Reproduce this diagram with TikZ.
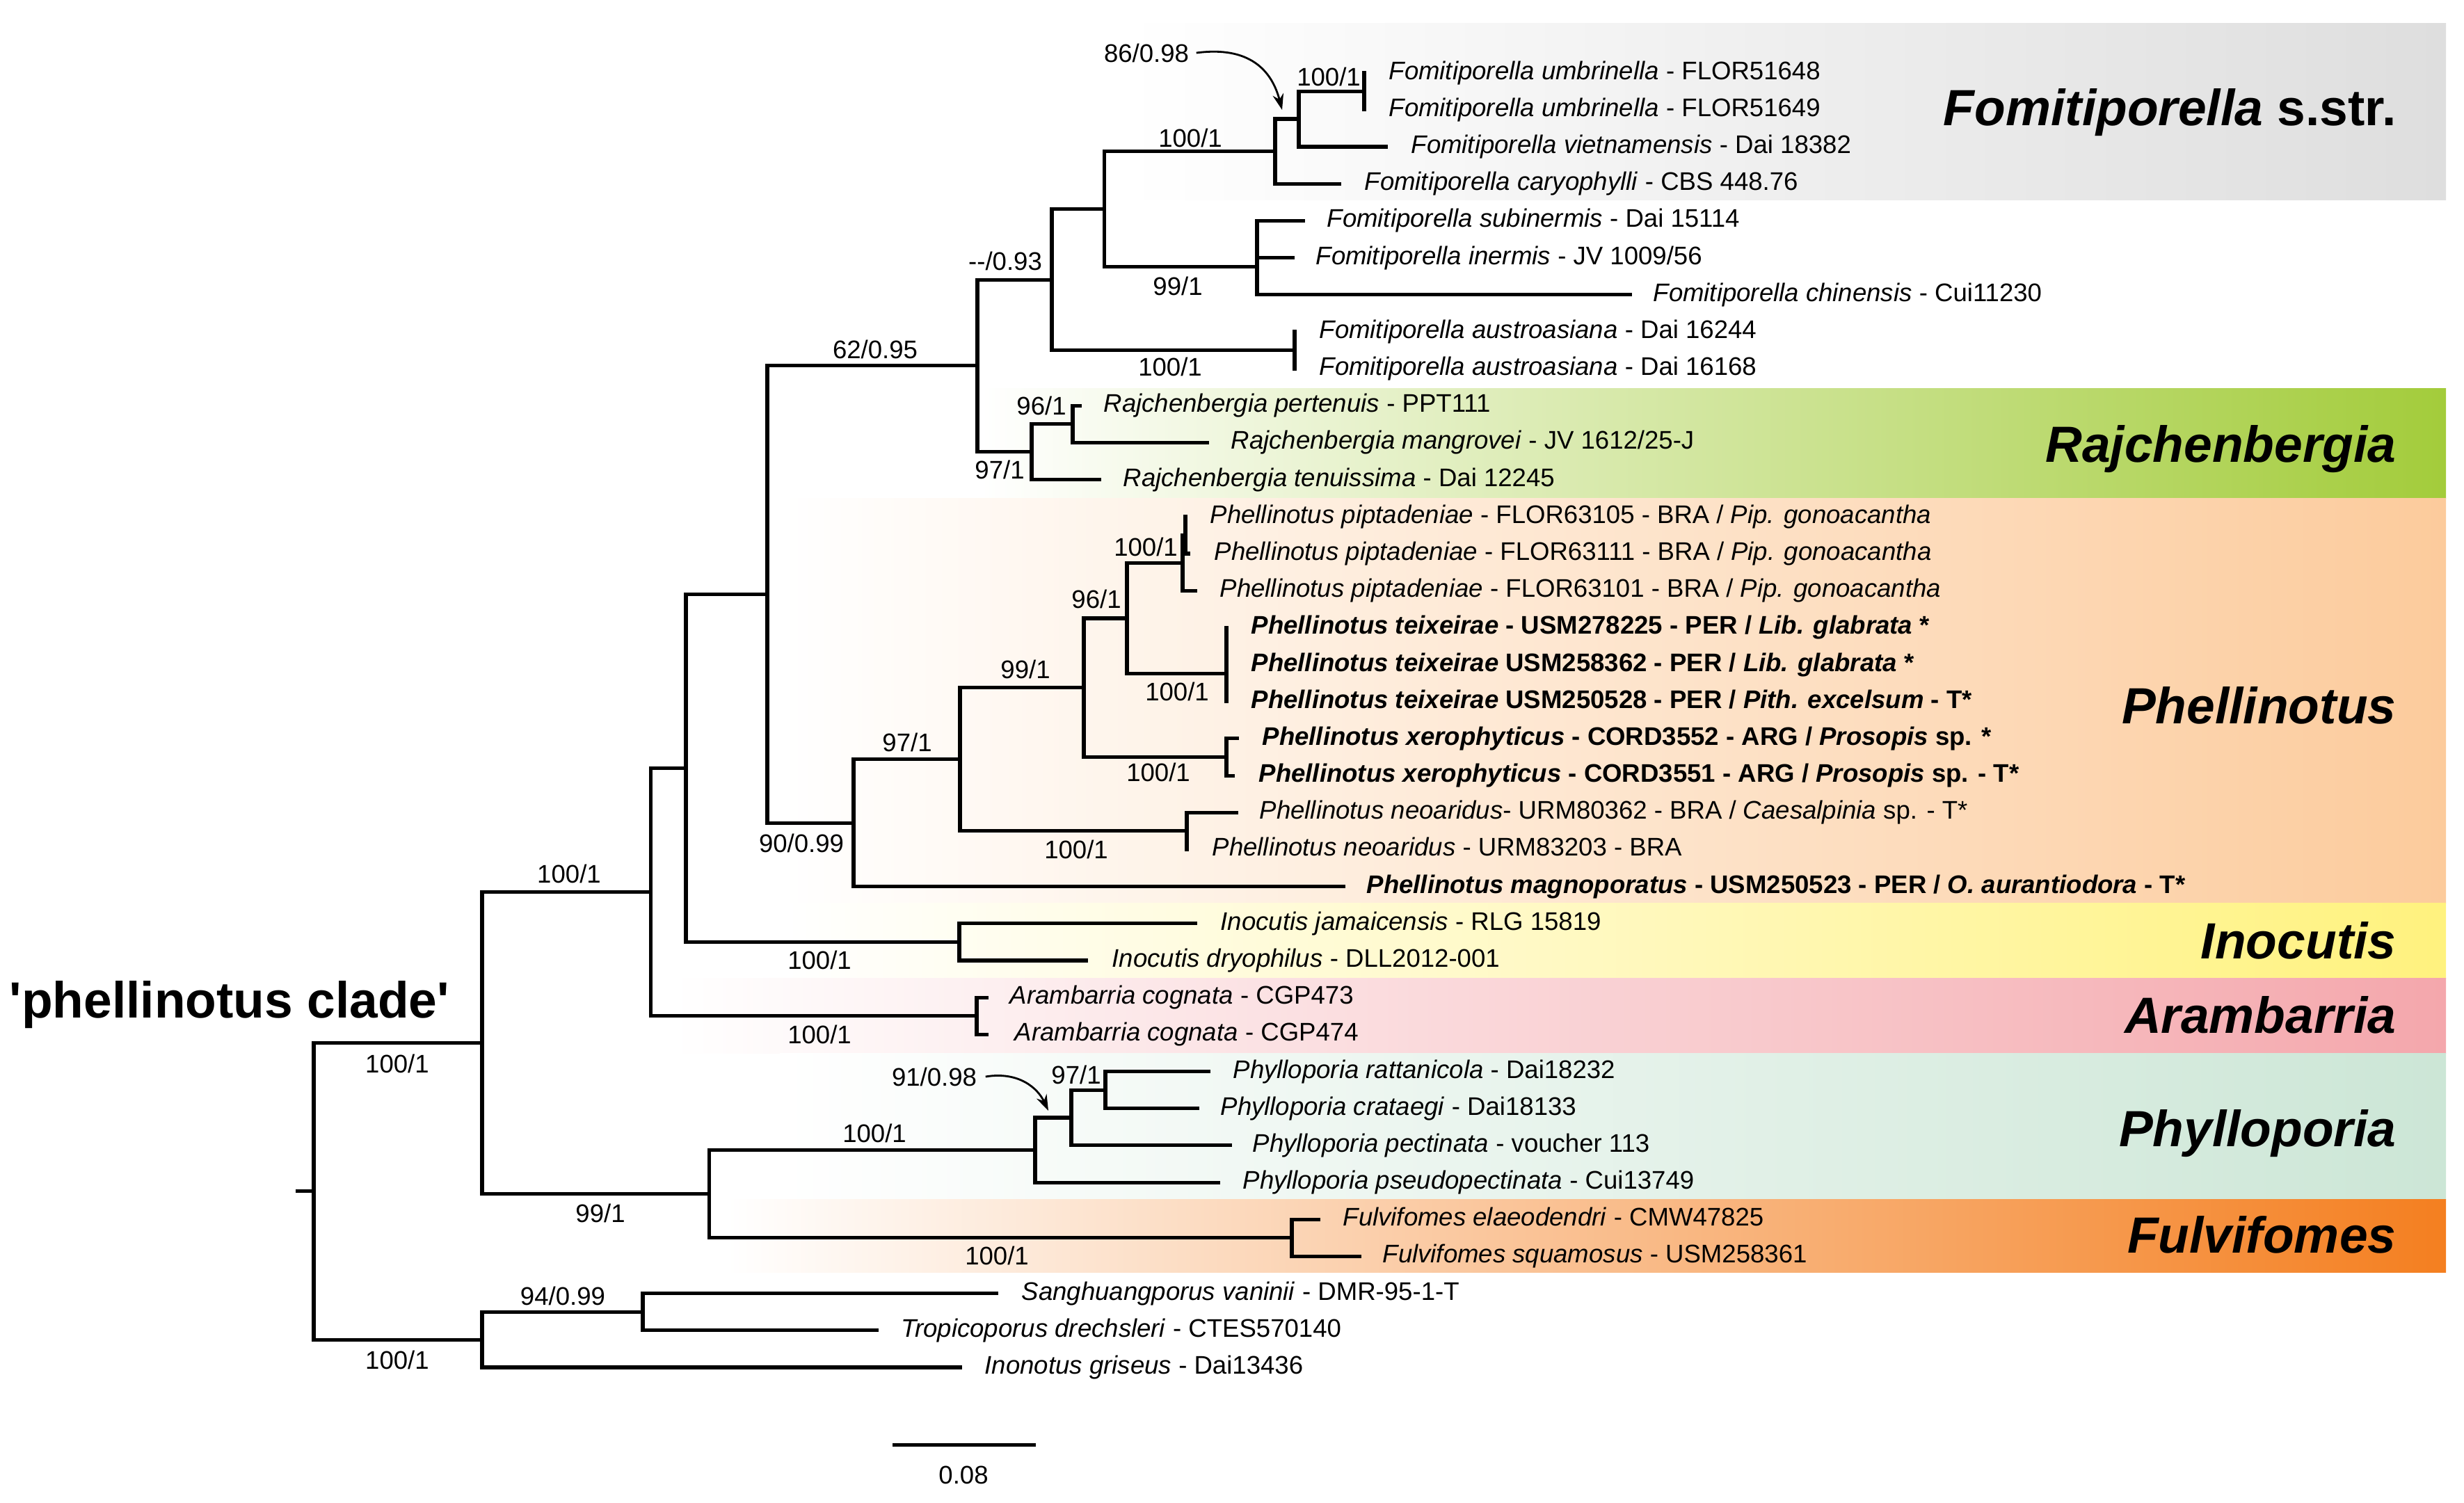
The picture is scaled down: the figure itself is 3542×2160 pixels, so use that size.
\documentclass[tikz,border=0pt]{standalone}
\usepackage{fontspec}
\setmainfont{Liberation Sans}
\usetikzlibrary{arrows.meta}
\definecolor{bgray}{HTML}{DEDEDE}
\definecolor{bgreen}{HTML}{A3CC3B}
\definecolor{bpeach}{HTML}{FCCB9C}
\definecolor{byellow}{HTML}{FFF27E}
\definecolor{bpink}{HTML}{F4A7AC}
\definecolor{bmint}{HTML}{CCE6D6}
\definecolor{borange}{HTML}{F47F20}
\begin{document}
\begin{tikzpicture}[x=0.01cm,y=-0.01cm,
  branch/.style={line width=1.45pt,line cap=rect},
  taxon/.style={anchor=west,inner sep=0pt,font=\fontsize{10.4}{12}\selectfont,text height=5.4pt,text depth=0pt},
  supp/.style={inner sep=0pt,font=\fontsize{10.4}{12}\selectfont,text height=7.5pt,text depth=0pt},
  cladelab/.style={anchor=base east,inner sep=0pt,font=\fontsize{20.8}{24}\selectfont\bfseries\itshape},
  arr/.style={line width=0.8pt,-{Stealth[length=6.5pt,width=4.5pt]}}]
\fill[white] (0,0) rectangle (3542,2160);
\useasboundingbox (0,0) rectangle (3542,2160);
% ---- clade bands
\shade[left color=white,right color=bgray] (1616,33) rectangle (3516,287);
\shade[left color=white,right color=bgreen] (1410,558) rectangle (3516,716);
\shade[left color=white,right color=bpeach] (1124,716) rectangle (3516,1298);
\shade[left color=white,right color=byellow] (1130,1298) rectangle (3516,1406);
\shade[left color=white,right color=bpink] (966,1406) rectangle (3516,1514);
\shade[left color=white,right color=bmint] (1121,1514) rectangle (3516,1724);
\shade[left color=white,right color=borange] (1045,1724) rectangle (3516,1829);
% ---- internal nodes
\coordinate (stub) at (428,1712.9);
\coordinate (root) at (451,1712.9);
\coordinate (A) at (693,1499.6);
\coordinate (O) at (693,1926.1);
\coordinate (O2) at (924,1886.2);
\coordinate (B) at (935.6,1282.6);
\coordinate (PF) at (1019.5,1716.7);
\coordinate (C) at (986,1104.5);
\coordinate (AR) at (1404,1460.7);
\coordinate (D) at (1103,854.6);
\coordinate (IN) at (1379,1354.4);
\coordinate (E) at (1405,525.9);
\coordinate (P90) at (1227,1183.2);
\coordinate (F) at (1512,402.1);
\coordinate (R97) at (1483,649.7);
\coordinate (G) at (1587.5,300.7);
\coordinate (AU) at (1861,503.5);
\coordinate (FS) at (1833,217.5);
\coordinate (N99) at (1807,383.8);
\coordinate (N86) at (1867,171);
\coordinate (U) at (1961,131.2);
\coordinate (R96) at (1542,609.8);
\coordinate (P97) at (1380,1091.8);
\coordinate (P99) at (1558,988.8);
\coordinate (NE) at (1706,1194.8);
\coordinate (P96) at (1620,889);
\coordinate (XE) at (1763,1088.5);
\coordinate (PP) at (1700,809.3);
\coordinate (PI) at (1704,769.4);
\coordinate (TX) at (1763,968.8);
\coordinate (PH) at (1488,1653.5);
\coordinate (FU) at (1857,1779.8);
\coordinate (P91) at (1540,1607);
\coordinate (P97b) at (1589,1567.1);
% ---- leaf tips
\coordinate (l1) at (1961,104.6);
\coordinate (l2) at (1961,157.8);
\coordinate (l3) at (1992,211.0);
\coordinate (l4) at (1925,264.1);
\coordinate (l5) at (1873,317.3);
\coordinate (l6) at (1858,370.5);
\coordinate (l7) at (2343,423.7);
\coordinate (l8) at (1861,476.9);
\coordinate (l9) at (1861,530.0);
\coordinate (l10) at (1552,583.2);
\coordinate (l11) at (1735,636.4);
\coordinate (l12) at (1580,689.6);
\coordinate (l13) at (1704,742.8);
\coordinate (l14) at (1708,796.0);
\coordinate (l15) at (1718,849.1);
\coordinate (l16) at (1763,902.3);
\coordinate (l17) at (1763,955.5);
\coordinate (l18) at (1763,1008.7);
\coordinate (l19) at (1778,1061.9);
\coordinate (l20) at (1772,1115.1);
\coordinate (l21) at (1777,1168.2);
\coordinate (l22) at (1706,1221.4);
\coordinate (l23) at (1931,1274.6);
\coordinate (l24) at (1718,1327.8);
\coordinate (l25) at (1561,1381.0);
\coordinate (l26) at (1418,1434.1);
\coordinate (l27) at (1418,1487.3);
\coordinate (l28) at (1737.5,1540.5);
\coordinate (l29) at (1721,1593.7);
\coordinate (l30) at (1768,1646.9);
\coordinate (l31) at (1751.6,1700.1);
\coordinate (l32) at (1895,1753.2);
\coordinate (l33) at (1954,1806.4);
\coordinate (l34) at (1432,1859.6);
\coordinate (l35) at (1260,1912.8);
\coordinate (l36) at (1380,1966.0);
% ---- tree: verticals
\foreach \p/\a/\b in {root/A/O, A/B/PF, O/O2/l36, O2/l34/l35, B/C/AR, AR/l26/l27,
  C/D/IN, IN/l24/l25, D/E/P90, E/F/R97, F/G/AU, G/FS/N99, FS/N86/l4, N86/U/l3,
  U/l1/l2, N99/l5/l7, AU/l8/l9, R97/R96/l12, R96/l10/l11, P90/P97/l23, P97/P99/NE,
  P99/P96/XE, P96/PP/TX, PP/PI/l15, PI/l13/l14, TX/l16/l18, XE/l19/l20, NE/l21/l22,
  PF/PH/FU, PH/P91/l31, P91/P97b/l30, P97b/l28/l29, FU/l32/l33}
  \draw[branch] (\p |- \a) -- (\p |- \b);
% ---- tree: horizontals
\draw[branch] (stub) -- (root);
\foreach \p/\c in {root/A, root/O, A/B, A/PF, O/O2, O/l36, O2/l34, O2/l35, B/C, B/AR,
  AR/l26, AR/l27, C/D, C/IN, IN/l24, IN/l25, D/E, D/P90, E/F, E/R97, F/G, F/AU,
  G/FS, G/N99, FS/N86, FS/l4, N86/U, N86/l3, N99/l5, N99/l6, N99/l7, R97/R96, R97/l12,
  R96/l10, R96/l11, P90/P97, P90/l23, P97/P99, P97/NE, P99/P96, P99/XE, P96/PP, P96/TX,
  PP/PI, PP/l15, PI/l14, XE/l19, XE/l20, NE/l21, PF/PH, PF/FU, PH/P91, PH/l31,
  P91/P97b, P91/l30, P97b/l28, P97b/l29, FU/l32, FU/l33}
  \draw[branch] (\p |- \c) -- (\c);
% ---- taxon labels
\node[taxon] (t1) at (1996,104.6) {\textit{Fomitiporella umbrinella} - FLOR51648};
\node[taxon] (t2) at (1996,157.8) {\textit{Fomitiporella umbrinella} - FLOR51649};
\node[taxon] (t3) at (2028,211.0) {\textit{Fomitiporella vietnamensis} - Dai 18382};
\node[taxon] (t4) at (1961,264.1) {\textit{Fomitiporella caryophylli} - CBS 448.76};
\node[taxon] (t5) at (1907,317.3) {\textit{Fomitiporella subinermis} - Dai 15114};
\node[taxon] (t6) at (1891,370.5) {\textit{Fomitiporella inermis} - JV 1009/56};
\node[taxon] (t7) at (2376,423.7) {\textit{Fomitiporella chinensis} - Cui11230};
\node[taxon] (t8) at (1896,476.9) {\textit{Fomitiporella austroasiana} - Dai 16244};
\node[taxon] (t9) at (1896,530.0) {\textit{Fomitiporella austroasiana} - Dai 16168};
\node[taxon] (t10) at (1586,583.2) {\textit{Rajchenbergia pertenuis} - PPT111};
\node[taxon] (t11) at (1769,636.4) {\textit{Rajchenbergia mangrovei} - JV 1612/25-J};
\node[taxon] (t12) at (1614,689.6) {\textit{Rajchenbergia tenuissima} - Dai 12245};
\node[taxon] (t13) at (1739,742.8) {\textit{Phellinotus piptadeniae} - FLOR63105 - BRA / \textit{Pip. gonoacantha}};
\node[taxon] (t14) at (1745,796.0) {\textit{Phellinotus piptadeniae} - FLOR63111 - BRA / \textit{Pip. gonoacantha}};
\node[taxon] (t15) at (1753,849.1) {\textit{Phellinotus piptadeniae} - FLOR63101 - BRA / \textit{Pip. gonoacantha}};
\node[taxon] (t16) at (1798,902.3) {\bfseries\textit{Phellinotus teixeirae} - USM278225 - PER / \textit{Lib. glabrata} *};
\node[taxon] (t17) at (1798,955.5) {\bfseries\textit{Phellinotus teixeirae} USM258362 - PER / \textit{Lib. glabrata} *};
\node[taxon] (t18) at (1798,1008.7) {\bfseries\textit{Phellinotus teixeirae} USM250528 - PER / \textit{Pith. excelsum} - T*};
\node[taxon] (t19) at (1814,1061.9) {\bfseries\textit{Phellinotus xerophyticus} - CORD3552 - ARG / \textit{Prosopis} sp. *};
\node[taxon] (t20) at (1809,1115.1) {\bfseries\textit{Phellinotus xerophyticus} - CORD3551 - ARG / \textit{Prosopis} sp. - T*};
\node[taxon] (t21) at (1810,1168.2) {\textit{Phellinotus neoaridus}- URM80362 - BRA / \textit{Caesalpinia} sp. - T*};
\node[taxon] (t22) at (1742,1221.4) {\textit{Phellinotus neoaridus} - URM83203 - BRA};
\node[taxon] (t23) at (1964,1274.6) {\bfseries\textit{Phellinotus magnoporatus} - USM250523 - PER / \textit{O. aurantiodora} - T*};
\node[taxon] (t24) at (1754,1327.8) {\textit{Inocutis jamaicensis} - RLG 15819};
\node[taxon] (t25) at (1598,1381.0) {\textit{Inocutis dryophilus} - DLL2012-001};
\node[taxon] (t26) at (1451,1434.1) {\textit{Arambarria cognata} - CGP473};
\node[taxon] (t27) at (1458,1487.3) {\textit{Arambarria cognata} - CGP474};
\node[taxon] (t28) at (1772,1540.5) {\textit{Phylloporia rattanicola} - Dai18232};
\node[taxon] (t29) at (1754,1593.7) {\textit{Phylloporia crataegi} - Dai18133};
\node[taxon] (t30) at (1800,1646.9) {\textit{Phylloporia pectinata} - voucher 113};
\node[taxon] (t31) at (1786,1700.1) {\textit{Phylloporia pseudopectinata} - Cui13749};
\node[taxon] (t32) at (1930,1753.2) {\textit{Fulvifomes elaeodendri} - CMW47825};
\node[taxon] (t33) at (1987,1806.4) {\textit{Fulvifomes squamosus} - USM258361};
\node[taxon] (t34) at (1468,1859.6) {\textit{Sanghuangporus vaninii} - DMR-95-1-T};
\node[taxon] (t35) at (1295,1912.8) {\textit{Tropicoporus drechsleri} - CTES570140};
\node[taxon] (t36) at (1415,1966.0) {\textit{Inonotus griseus} - Dai13436};
% ---- support values
\node[supp] (s86) at (1648,76) {86/0.98};
\node[supp] (sU) at (1910,110) {100/1};
\node[supp] (sFS) at (1711,198) {100/1};
\node[supp] (sN99) at (1693,411) {99/1};
\node[supp] (sF) at (1445,375) {-{}-/0.93};
\node[supp] (sAU) at (1682,527) {100/1};
\node[supp] (sE) at (1258,502) {62/0.95};
\node[supp] (sR96) at (1497,583) {96/1};
\node[supp] (sR97) at (1437,675) {97/1};
\node[supp] (sPP) at (1647,786) {100/1};
\node[supp] (sP96) at (1576,861) {96/1};
\node[supp] (sTX) at (1692,994) {100/1};
\node[supp] (sP99) at (1474,962) {99/1};
\node[supp] (sXE) at (1665,1110) {100/1};
\node[supp] (sP97) at (1304,1067) {97/1};
\node[supp] (sNE) at (1547,1221) {100/1};
\node[supp] (sP90) at (1152,1212) {90/0.99};
\node[supp] (sIN) at (1178,1380) {100/1};
\node[supp] (sAR) at (1178,1487) {100/1};
\node[supp] (sB) at (818,1256) {100/1};
\node[supp] (sA) at (571,1529) {100/1};
\node[supp] (sPF) at (863,1744) {99/1};
\node[supp] (sPH) at (1257,1629) {100/1};
\node[supp] (s91) at (1343,1548) {91/0.98};
\node[supp] (sP97b) at (1547,1545) {97/1};
\node[supp] (sFU) at (1433,1805) {100/1};
\node[supp] (sO2) at (809,1863) {94/0.99};
\node[supp] (sO) at (571,1955) {100/1};
% ---- arrows to short branches
\coordinate (a86) at (1843,158);
\coordinate (a91) at (1507,1597);
\draw[arr] ([xshift=0.1cm]s86.east) .. controls (1795,66) and (1828,100) .. (a86);
\draw[arr] ([xshift=0.12cm]s91.east) .. controls (1465,1540) and (1492,1565) .. (a91);
% ---- clade names
\node[anchor=base west,inner sep=0pt,font=\fontsize{20.8}{24}\selectfont\bfseries] (pclade) at (13,1463) {\textquotesingle phellinotus clade\textquotesingle};
\node[cladelab] (cFom) at (3445,180) {Fomitiporella \textup{s.str.}};
\node[cladelab] (cRaj) at (3445,664) {Rajchenbergia};
\node[cladelab] (cPhe) at (3445,1040) {Phellinotus};
\node[cladelab] (cIno) at (3445,1378) {Inocutis};
\node[cladelab] (cAra) at (3445,1485) {Arambarria};
\node[cladelab] (cPhy) at (3445,1648) {Phylloporia};
\node[cladelab] (cFul) at (3445,1801) {Fulvifomes};
% ---- scale bar
\coordinate (sb1) at (1286,2077.7);
\coordinate (sb2) at (1486,2077.7);
\draw[branch] (sb1) -- (sb2);
\node[supp] (sbl) at (1385,2120) {0.08};
\end{tikzpicture}
\end{document}
